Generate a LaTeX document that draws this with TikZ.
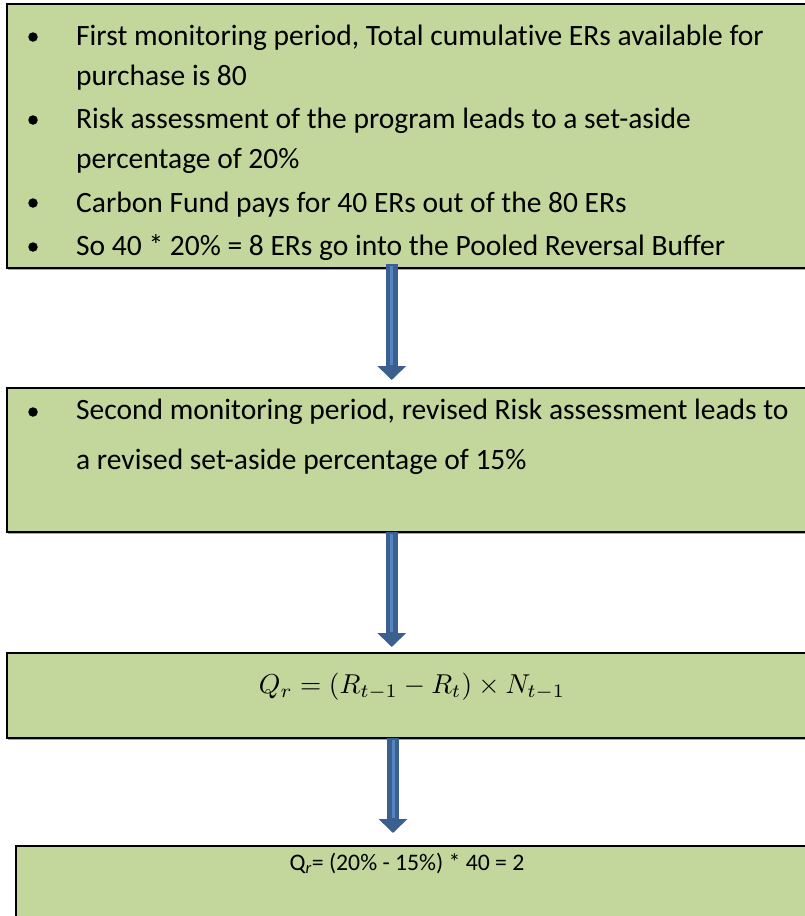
\documentclass[tikz,border=0pt]{standalone}
\usepackage{fontspec}
\usepackage{graphicx}
\setmainfont[Ligatures=NoCommon]{Carlito}
\usetikzlibrary{arrows.meta,calc,shadows}
\definecolor{boxgreen}{HTML}{C3D69B}
\definecolor{arrowdark}{HTML}{3B6090}
\definecolor{arrowlight}{HTML}{5584C0}
\begin{document}
\begin{tikzpicture}[x=1pt,y=-1pt,
  box/.style={draw=black, line width=1.5pt, fill=boxgreen, anchor=north west,
    inner sep=0pt, outer sep=0pt,
    drop shadow={shadow xshift=0.8pt, shadow yshift=-1.6pt, fill=black, opacity=0.35}},
  btext/.style={anchor=base west, inner sep=0pt, font=\fontsize{29.5}{34}\selectfont},
  bul/.style={circle, fill=black, inner sep=0pt, minimum size=9.5pt},
  arrbody/.style={draw=arrowdark, line width=12pt, -{Triangle[width=28pt,length=14pt]}},
  arrstripe/.style={draw=arrowlight, line width=3pt}]
\useasboundingbox (0,0) rectangle (805,916);
\fill[white] (0,0) rectangle (805,916);

% boxes
\node[box, minimum width=799pt, minimum height=264pt] (b1) at (7,4) {};
\node[box, minimum width=805pt, minimum height=144pt] (b2) at (7,388) {};
\node[box, minimum width=805pt, minimum height=85pt] (b3) at (7,653) {};
\node[box, minimum width=800pt, minimum height=100pt] (b4) at (16,846) {};

% box 1 text
\node[bul] (u1) at (33,37) {};
\node[btext] (t1) at (76,45) {First monitoring period, Total cumulative ERs available for};
\node[btext] (t2) at (76,85) {purchase is 80};
\node[bul] (u2) at (33,120) {};
\node[btext] (t3) at (76,128) {Risk assessment of the program leads to a set-aside};
\node[btext] (t4) at (76,168) {percentage of 20\%};
\node[bul] (u3) at (33,203) {};
\node[btext] (t5) at (76,212) {Carbon Fund pays for 40 ERs out of the 80 ERs};
\node[bul] (u4) at (33,247) {};
\begin{scope}
\clip (0,0) rectangle (805,259);
\node[btext] (t6) at (76,255) {So 40 * 20\% = 8 ERs go into the Pooled Reversal Buffer};
\end{scope}

% box 2 text
\node[bul] (u5) at (33,412) {};
\node[btext] (t7) at (76,419) {Second monitoring period, revised Risk assessment leads to};
\node[btext] (t8) at (76,469) {a revised set-aside percentage of 15\%};

% box 3 formula
\node[anchor=base, inner sep=0pt] (f1) at (412,693)
  {\resizebox{306pt}{!}{$Q_r = (R_{t-1} - R_t) \times N_{t-1}$}};

% box 4 text
\node[anchor=base, inner sep=0pt, font=\fontsize{23.7}{28}\selectfont] (f2) at (407,870)
  {Q\textsubscript{\textit{r}}= (20\% - 15\%) * 40 = 2};

% arrows
\coordinate (a1s) at ([xshift=384.75pt,yshift=4pt]b1.south west);
\coordinate (a1e) at ([xshift=384.75pt,yshift=8pt]b2.north west);
\coordinate (a2s) at ([xshift=384.75pt,yshift=0pt]b2.south west);
\coordinate (a2e) at ([xshift=384.75pt,yshift=6pt]b3.north west);
\coordinate (a3s) at ([xshift=386pt,yshift=0pt]b3.south west);
\coordinate (a3e) at ([xshift=377pt,yshift=13pt]b4.north west);
\foreach \s/\e in {a1s/a1e,a2s/a2e,a3s/a3e}{
  \draw[arrbody] (\s) -- (\e);
  \draw[arrstripe] ([yshift=-2pt]\s) -- ([yshift=15pt]\e);
}
\end{tikzpicture}
\end{document}
